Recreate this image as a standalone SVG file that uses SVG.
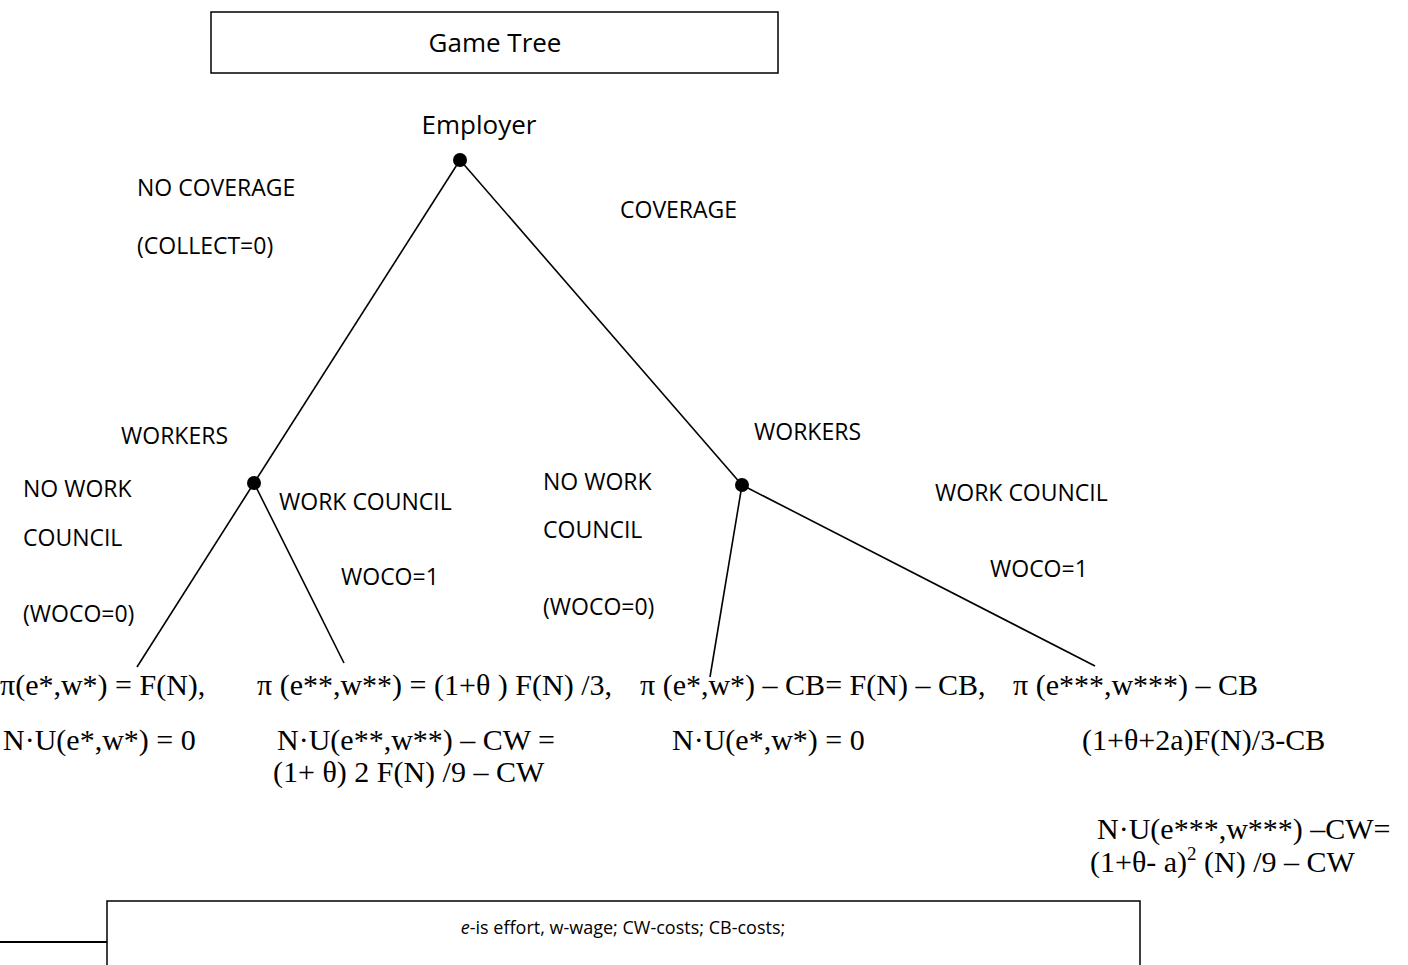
<svg xmlns="http://www.w3.org/2000/svg" width="1408" height="965" viewBox="0 0 1408 965">
<style>
.lbl{font-family:"Open Sans","Liberation Sans",sans-serif;font-size:23px;fill:#000}
.big{font-size:26px}
.small{font-size:18px}
.math{font-family:"Liberation Serif","DejaVu Serif",serif;font-size:30px;fill:#000}
.box{fill:#fff;stroke:#000;stroke-width:1.5}
.edge{stroke:#000;stroke-width:1.6;fill:none}
.dot{fill:#000}
</style>
<rect width="1408" height="965" fill="#fff"/>
<g id="title">
<rect class="box" x="211" y="12" width="567" height="61"/>
<text class="lbl big" x="495" y="52" text-anchor="middle">Game Tree</text>
</g>
<g id="connectors">
<line class="edge" x1="460" y1="160" x2="254" y2="483"/>
<line class="edge" x1="460" y1="160" x2="742" y2="485"/>
<line class="edge" x1="254" y1="483" x2="137" y2="667"/>
<line class="edge" x1="254" y1="483" x2="344" y2="663"/>
<line class="edge" x1="742" y1="485" x2="710" y2="677"/>
<line class="edge" x1="742" y1="485" x2="1095" y2="666"/>
</g>
<g id="node-employer">
<text class="lbl big" x="479" y="134" text-anchor="middle">Employer</text>
<circle class="dot" cx="460" cy="160" r="7"/>
</g>
<g id="edge-labels-root">
<text class="lbl" x="137" y="196">NO COVERAGE</text>
<text class="lbl" x="137" y="254">(COLLECT=0)</text>
<text class="lbl" x="620" y="218">COVERAGE</text>
</g>
<g id="node-workers-left">
<text class="lbl" x="121" y="444">WORKERS</text>
<circle class="dot" cx="254" cy="483" r="7"/>
<text class="lbl" x="23" y="497">NO WORK</text>
<text class="lbl" x="23" y="546">COUNCIL</text>
<text class="lbl" x="23" y="622">(WOCO=0)</text>
<text class="lbl" x="279" y="510">WORK COUNCIL</text>
<text class="lbl" x="341" y="585">WOCO=1</text>
</g>
<g id="node-workers-right">
<text class="lbl" x="754" y="440">WORKERS</text>
<circle class="dot" cx="742" cy="485" r="7"/>
<text class="lbl" x="543" y="490">NO WORK</text>
<text class="lbl" x="543" y="538">COUNCIL</text>
<text class="lbl" x="543" y="615">(WOCO=0)</text>
<text class="lbl" x="935" y="501">WORK COUNCIL</text>
<text class="lbl" x="990" y="577">WOCO=1</text>
</g>
<g id="leaf-1">
<text class="math" x="0" y="695">π(e*,w*) = F(N),</text>
<text class="math" x="3" y="750">N·U(e*,w*) = 0</text>
</g>
<g id="leaf-2">
<text class="math" x="257" y="695">π (e**,w**) = (1+θ ) F(N) /3,</text>
<text class="math" x="277" y="750">N·U(e**,w**) – CW =</text>
<text class="math" x="273" y="782">(1+ θ) 2 F(N) /9 – CW</text>
</g>
<g id="leaf-3">
<text class="math" x="640" y="695">π (e*,w*) – CB= F(N) – CB,</text>
<text class="math" x="672" y="750">N·U(e*,w*) = 0</text>
</g>
<g id="leaf-4">
<text class="math" x="1013" y="695">π (e***,w***) – CB</text>
<text class="math" x="1082" y="750">(1+θ+2a)F(N)/3-CB</text>
<text class="math" x="1097" y="839">N·U(e***,w***) –CW=</text>
<text class="math" x="1090" y="872">(1+θ- a)<tspan font-size="19" dy="-12">2</tspan><tspan dy="12"> (N) /9 – CW</tspan></text>
</g>
<g id="legend">
<line x1="0" y1="942" x2="108" y2="942" stroke="#000" stroke-width="2"/>
<rect class="box" x="107" y="901" width="1033" height="80"/>
<text class="lbl small" x="623" y="934" text-anchor="middle"><tspan font-style="italic">e</tspan>-is effort, w-wage; CW-costs; CB-costs;</text>
</g>
</svg>
